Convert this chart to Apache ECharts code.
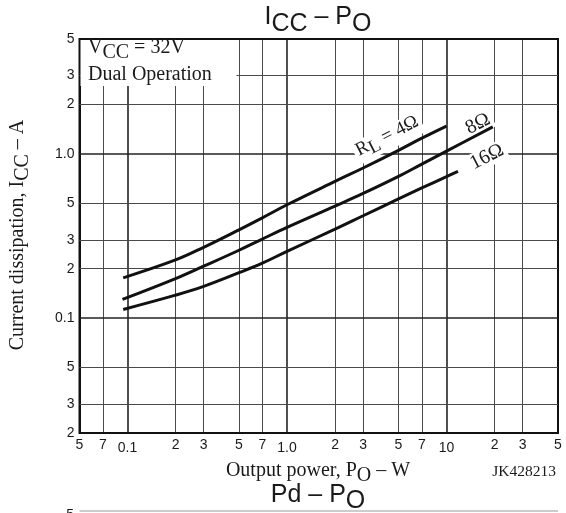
<!DOCTYPE html>
<html><head><meta charset="utf-8">
<script src="https://cdn.jsdelivr.net/npm/echarts@6/dist/echarts.min.js"></script>
<style>html,body{margin:0;padding:0;background:#fff}#c{width:566px;height:513px}</style>
</head><body><div id="c"></div>
<script>
// Axis grid / tick labels
const xGridVals = [0.05,0.07,0.1,0.2,0.3,0.5,0.7,1,2,3,5,7,10,20,30,50];
const xGridText = ['5','7','0.1','2','3','5','7','1.0','2','3','5','7','10','2','3','5'];
const yGridVals = [0.02,0.03,0.05,0.1,0.2,0.3,0.5,1,2,3,5];
const yGridText = ['2','3','5','0.1','2','3','5','1.0','2','3','5'];
const decadeVals = [0.1,1,10];

// Curves: output power PO (W) and current ICC (A)
const po4   = [0.094,0.2,0.3,0.5,0.7,1,2,3,5,7,10];
const icc4  = [0.176,0.226,0.27,0.345,0.408,0.49,0.68,0.82,1.05,1.245,1.475];
const po8   = [0.093,0.2,0.3,0.5,0.7,1,2,3,5,7,10,19.5];
const icc8  = [0.130,0.174,0.207,0.259,0.303,0.357,0.481,0.574,0.729,0.866,1.039,1.46];
const po16  = [0.094,0.2,0.3,0.5,0.7,1,2,3,5,7,10,11.8];
const icc16 = [0.113,0.138,0.156,0.189,0.216,0.255,0.348,0.42,0.532,0.62,0.727,0.783];

const zip = (a,b) => a.map((v,i)=>[v,b[i]]);
const SANS = 'Liberation Sans, Arial, sans-serif';
const SERIF = 'Liberation Serif, Times New Roman, serif';
const TXT = '#1a1a1a';

function gridStyle(v, isBorder){
  if (isBorder) return {color:'#111', width:2, type:'solid'};
  if (decadeVals.indexOf(v) >= 0) return {color:'#222', width:1.6, type:'solid'};
  return {color:'#4a4a4a', width:1, type:'solid'};
}

const xLines = xGridVals.map((v,i)=>({
  xAxis: v,
  lineStyle: gridStyle(v, i===0 || i===xGridVals.length-1),
  label: {show:true, position:'start', formatter: xGridText[i], distance: decadeVals.indexOf(v)>=0 ? 8 : 5,
          color: TXT, fontFamily: SANS, fontSize: 14}
}));
const yLines = yGridVals.map((v,i)=>({
  yAxis: v,
  lineStyle: gridStyle(v, i===0 || i===yGridVals.length-1),
  label: {show:true, position:'start', formatter: yGridText[i], distance: 5,
          color: TXT, fontFamily: SANS, fontSize: 14}
}));

function sub(text, font, p){
  return {
    text: text,
    rich: {
      n: {fontFamily: font.family, fontSize: font.size, fill: TXT, padding:[0,0,p,0]},
      s: {fontFamily: font.family, fontSize: font.size, fill: TXT, padding:[p,0,0,0]}
    }
  };
}

const rot = 27*Math.PI/180;
const curveStyle = {color:'#111', width:3};
const chart = echarts.init(document.getElementById('c'), null, {renderer:'canvas'});
chart.setOption({
  animation: false,
  backgroundColor: '#fff',
  grid: {left: 79.5, right: 8, top: 39, bottom: 80, show: true, borderColor:'#111', borderWidth: 2, backgroundColor:'#fff'},
  xAxis: {type:'log', logBase:10, min:0.05, max:50, axisLine:{show:false}, axisTick:{show:false}, axisLabel:{show:false}, splitLine:{show:false}, minorSplitLine:{show:false}},
  yAxis: {type:'log', logBase:10, min:0.02, max:5, axisLine:{show:false}, axisTick:{show:false}, axisLabel:{show:false}, splitLine:{show:false}, minorSplitLine:{show:false}},
  series: [
    {type:'line', name:'grid', z:1, data:[[1,1]], symbol:'none', lineStyle:{width:0}, silent:true,
     markLine:{silent:true, symbol:['none','none'], animation:false, data: xLines.concat(yLines)}},
    {type:'line', name:'4Ω', z:20, data: zip(po4,icc4), symbol:'none', smooth:0.4, lineStyle:curveStyle},
    {type:'line', name:'8Ω', z:20, data: zip(po8,icc8), symbol:'none', smooth:0.4, lineStyle:curveStyle},
    {type:'line', name:'16Ω', z:20, data: zip(po16,icc16), symbol:'none', smooth:0.4, lineStyle:curveStyle}
  ],
  graphic: [
    {type:'rect', z:10, shape:{x:80.5, y:40, width:156, height:46}, style:{fill:'#fff'}},
    {type:'text', z:11, x:88, y:50.5, style: Object.assign(sub('{n|V}{s|CC}{n| = 32V}', {family:SERIF,size:20}, 5), {align:'left', verticalAlign:'middle'})},
    {type:'text', z:11, x:88, y:74.5, style:{text:'Dual Operation', fontFamily:SERIF, fontSize:20, fill:TXT, align:'left', verticalAlign:'middle'}},
    {type:'text', z:12, x:388, y:138, rotation: rot, style: Object.assign(sub('{n|R}{s|L}{n| = 4Ω}', {family:SERIF,size:19}, 4), {align:'center', verticalAlign:'middle', backgroundColor:'#fff', padding:[0,3]})},
    {type:'text', z:12, x:478, y:124, rotation: rot, style:{text:'8Ω', fontFamily:SERIF, fontSize:20, fill:TXT, align:'center', verticalAlign:'middle', backgroundColor:'#fff', padding:[0,3]}},
    {type:'text', z:12, x:487, y:157, rotation: rot, style:{text:'16Ω', fontFamily:SERIF, fontSize:20, fill:TXT, align:'center', verticalAlign:'middle', backgroundColor:'#fff', padding:[0,3]}},
    {type:'text', z:11, x:318, y:21, style: Object.assign(sub('{n|I}{s|CC}{n| – P}{s|O}', {family:SANS,size:25}, 7), {align:'center', verticalAlign:'middle'})},
    {type:'text', z:11, x:318, y:473.3, style: Object.assign(sub('{n|Output power, P}{s|O}{n| – W}', {family:SERIF,size:20}, 5.5), {align:'center', verticalAlign:'middle'})},
    {type:'text', z:11, x:20.3, y:235, rotation: Math.PI/2, style: Object.assign(sub('{n|Current dissipation, I}{s|CC}{n| – A}', {family:SERIF,size:20}, 5.5), {align:'center', verticalAlign:'middle'})},
    {type:'text', z:11, x:556, y:471.5, style:{text:'JK428213', fontFamily:SERIF, fontSize:15.5, fill:TXT, align:'right', verticalAlign:'middle'}},
    {type:'text', z:11, x:318, y:498, style: Object.assign(sub('{n|Pd – P}{s|O}', {family:SANS,size:25}, 5.5), {align:'center', verticalAlign:'middle'})},
    {type:'line', z:11, shape:{x1:79.5, y1:511, x2:558, y2:511}, style:{stroke:'#999', lineWidth:1}},
    {type:'text', z:11, x:74, y:515, style:{text:'5', fontFamily:SANS, fontSize:14, fill:TXT, align:'right', verticalAlign:'middle'}}
  ]
});
</script>
</body></html>
